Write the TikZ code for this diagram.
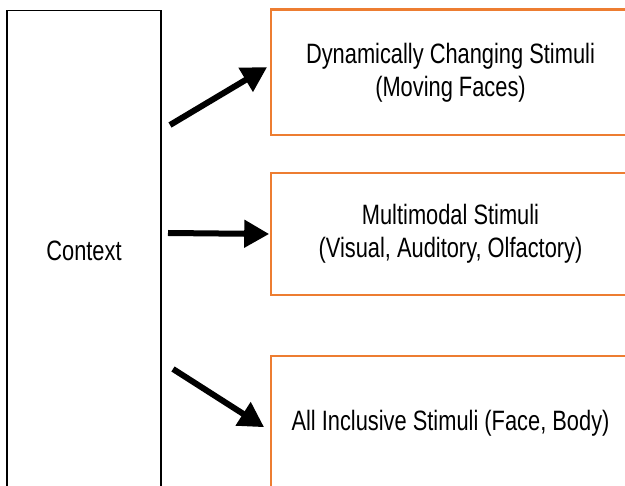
\documentclass[tikz,border=0pt]{standalone}
\usepackage{fontspec}
\setmainfont{Liberation Sans}[FakeStretch=0.78]
\usetikzlibrary{arrows}
\definecolor{boxorange}{RGB}{237,125,49}

\begin{document}
\begin{tikzpicture}[x=1pt,y=-1pt,>=triangle 60,
    every node/.style={font=\fontsize{28}{33}\selectfont,align=center},
    ctxbox/.style={draw=black,line width=1.2pt,minimum width=154pt,minimum height=480pt},
    stimbox/.style={draw=boxorange,line width=2.4pt,minimum width=359pt},
    arr/.style={->,line width=6pt}]
    \useasboundingbox (0,0) rectangle (625,486);
    \clip (0,0) rectangle (625,486);
    \node[ctxbox] (ctx) at (84,250.5) {Context};
    \node[stimbox,minimum height=125.5pt] (dyn) at (450.5,72.3) {Dynamically Changing Stimuli\\(Moving Faces)};
    \node[stimbox,minimum height=122.3pt] (multi) at (450.5,234) {Multimodal Stimuli\\(Visual, Auditory, Olfactory)};
    \node[stimbox,minimum height=134pt] (incl) at (450.5,423) {All Inclusive Stimuli (Face, Body)};
    \coordinate (t1) at (170,125);
    \coordinate (t2) at (168,233);
    \coordinate (t3) at (173,369);
    \draw[arr] (t1) -- ([xshift=-3pt,yshift=5pt]dyn.west);
    \draw[arr] (t2) -- ([xshift=-1pt]multi.west);
    \draw[arr] (t3) -- ([xshift=-6pt,yshift=-4pt]incl.west);
\end{tikzpicture}
\end{document}
